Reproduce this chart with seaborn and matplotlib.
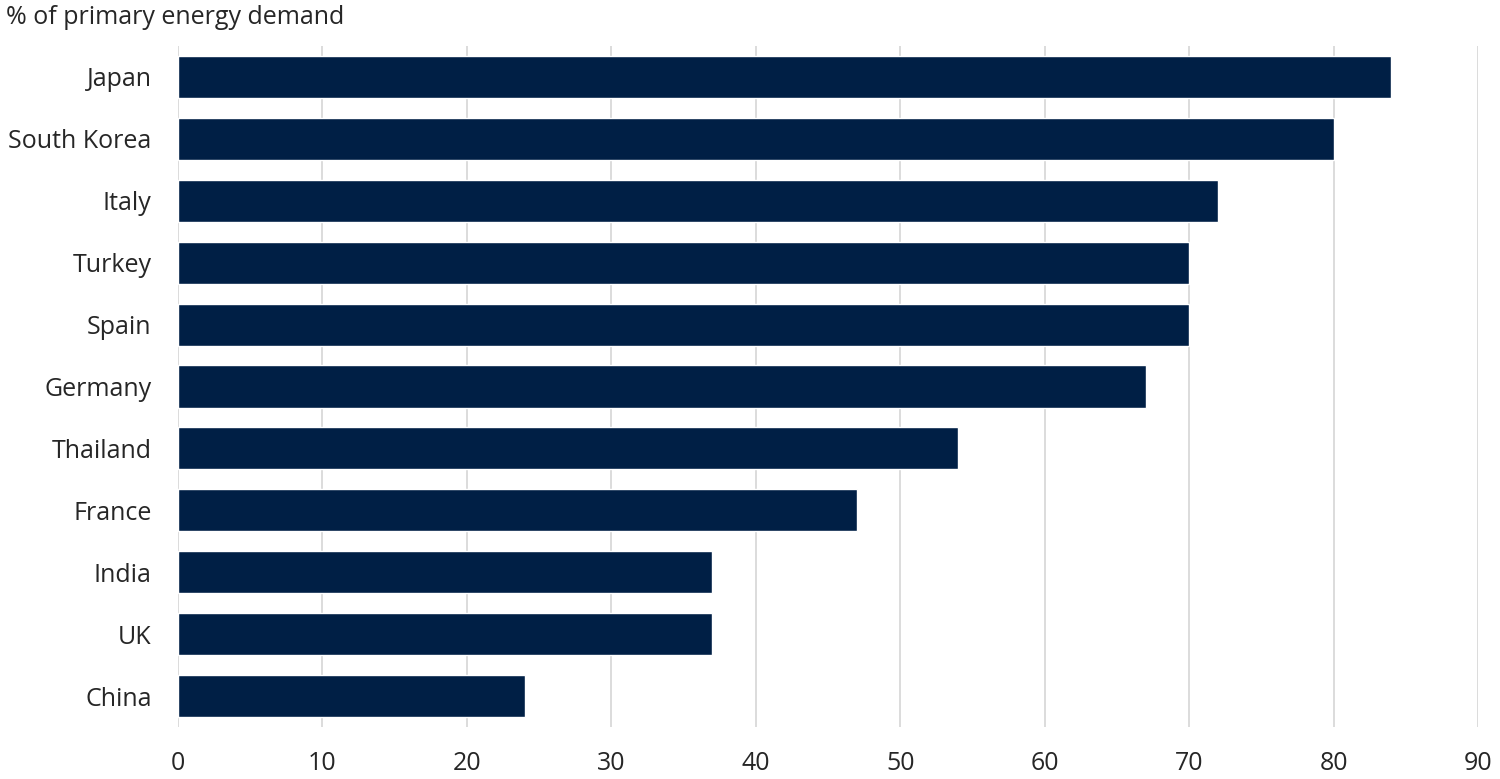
import matplotlib
matplotlib.use("Agg")
import matplotlib.pyplot as plt
import seaborn as sns
import pandas as pd

# ── Data ─────────────────────────────────────────────────────────────────────
countries = ["Japan", "South Korea", "Italy", "Turkey", "Spain", "Germany",
             "Thailand", "France", "India", "UK", "China"]
share = [84, 80, 72, 70, 70, 67, 54, 47, 37, 37, 24]
x_ticks = [0, 10, 20, 30, 40, 50, 60, 70, 80, 90]

df = pd.DataFrame({"country": countries, "share": share})

sns.set_theme(style="white")
plt.rcParams["font.family"] = ["Open Sans", "DejaVu Sans"]

fig = plt.figure(figsize=(15, 7.79), dpi=100)
ax = fig.add_axes([0.1187, 0.0668, 0.8666, 0.8742])

sns.barplot(data=df, x="share", y="country", orient="h", color="#001f45",
            saturation=1, width=0.68, ax=ax, zorder=3)

ax.set_xlim(0, 90)
ax.set_ylim(10.5, -0.5)
ax.set_xticks(x_ticks)
ax.xaxis.grid(True, color="#d9d9d9", linewidth=1.3, zorder=0)
ax.yaxis.grid(False)
for s in ax.spines.values():
    s.set_visible(False)
ax.tick_params(axis="both", length=0, labelsize=18, colors="#262626")
ax.tick_params(axis="x", pad=17)
ax.tick_params(axis="y", pad=19)
ax.set_xlabel("")
ax.set_ylabel("")

fig.text(0.004, 0.977, "% of primary energy demand", fontsize=18,
         color="#262626", ha="left", va="center")

plt.savefig("out.png", dpi=100)
plt.close()
